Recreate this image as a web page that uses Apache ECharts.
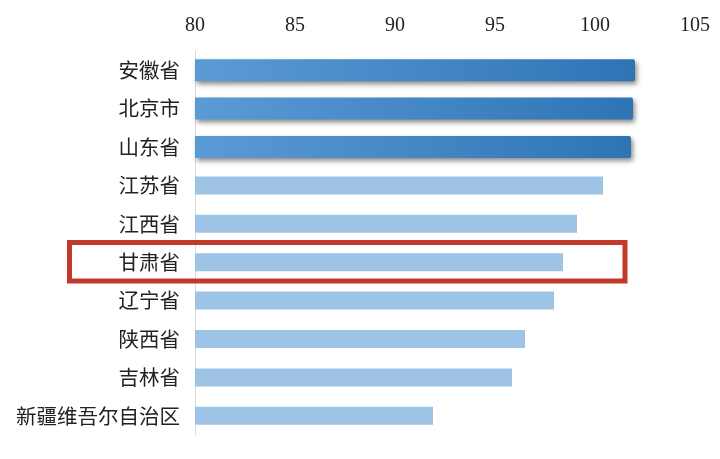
<!DOCTYPE html>
<html>
<head>
<meta charset="utf-8">
<script src="https://cdn.jsdelivr.net/npm/echarts@6/dist/echarts.min.js"></script>
<style>
    html, body { margin: 0; padding: 0; background: #fff; }
    #chart_1 { width: 720px; height: 459px; }
</style>
</head>
<body>
<div id="chart_1"></div>
<script>
// provinces, top to bottom
var provinces = ['安徽省', '北京市', '山东省', '江苏省', '江西省', '甘肃省', '辽宁省', '陕西省', '吉林省', '新疆维吾尔自治区'];
var scores = [102.0, 101.9, 101.8, 100.4, 99.1, 98.4, 97.95, 96.5, 95.85, 91.9];
var topRows = ['安徽省', '北京市', '山东省'];
var boxedRow = '甘肃省';
var xTicks = [80, 85, 90, 95, 100, 105];

var darkData = [];
var lightData = [];
provinces.forEach(function (v, k) {
    if (topRows.indexOf(v) >= 0) {
        darkData.push(scores[k]);
        lightData.push('-');
    } else {
        darkData.push('-');
        lightData.push(scores[k]);
    }
});

var myChart = echarts.init(document.getElementById('chart_1'));

var option = {
    animation: false,
    grid: {
        left: 195,
        right: 25,
        top: 51,
        bottom: 24,
        containLabel: false
    },
    xAxis: {
        type: 'value',
        position: 'top',
        min: xTicks[0],
        max: xTicks[xTicks.length - 1],
        interval: 5,
        axisLine: {show: false},
        axisTick: {show: false},
        splitLine: {show: false},
        axisLabel: {
            margin: 15,
            color: '#222',
            fontSize: 20,
            fontFamily: 'Liberation Serif'
        }
    },
    yAxis: [
        {
            type: 'category',
            inverse: true,
            data: provinces,
            axisLine: {lineStyle: {color: '#d9d9d9', width: 1}},
            axisTick: {show: false},
            axisLabel: {
                margin: 15,
                color: '#222',
                fontSize: 20.5,
                fontFamily: 'Noto Sans CJK SC'
            }
        },
        {
            // hidden twin axis so the dark bars sit centred in their band
            type: 'category',
            inverse: true,
            data: provinces,
            show: false
        }
    ],
    series: [
        {
            name: 'light',
            type: 'bar',
            yAxisIndex: 0,
            barWidth: 18,
            itemStyle: {color: '#9dc3e6'},
            data: lightData
        },
        {
            name: 'dark',
            type: 'bar',
            yAxisIndex: 1,
            barWidth: 22,
            itemStyle: {
                color: new echarts.graphic.LinearGradient(0, 0, 1, 0, [
                    {offset: 0, color: '#5b9bd5'},
                    {offset: 1, color: '#2e74b5'}
                ]),
                borderRadius: [0, 2, 2, 0],
                shadowColor: 'rgba(0,0,0,0.45)',
                shadowBlur: 5,
                shadowOffsetX: 2,
                shadowOffsetY: 3
            },
            data: darkData
        }
    ]
};

myChart.setOption(option);

// red highlight box around one row, placed from the axes
var rowY = myChart.convertToPixel({yAxisIndex: 0}, boxedRow);
var rightX = myChart.convertToPixel({xAxisIndex: 0}, 101.5);
var gridLeft = myChart.convertToPixel({xAxisIndex: 0}, 80);
var band = myChart.convertToPixel({yAxisIndex: 0}, provinces[1]) - myChart.convertToPixel({yAxisIndex: 0}, provinces[0]);
myChart.setOption({
    graphic: [{
        type: 'rect',
        z: 100,
        shape: {
            x: gridLeft - 125.5,
            y: rowY - band / 2 - 0.5,
            width: rightX - gridLeft + 125.5,
            height: band
        },
        style: {fill: 'none', stroke: '#c0392b', lineWidth: 5}
    }]
});

window.addEventListener('resize', function () {
    myChart.resize();
});
</script>
</body>
</html>
